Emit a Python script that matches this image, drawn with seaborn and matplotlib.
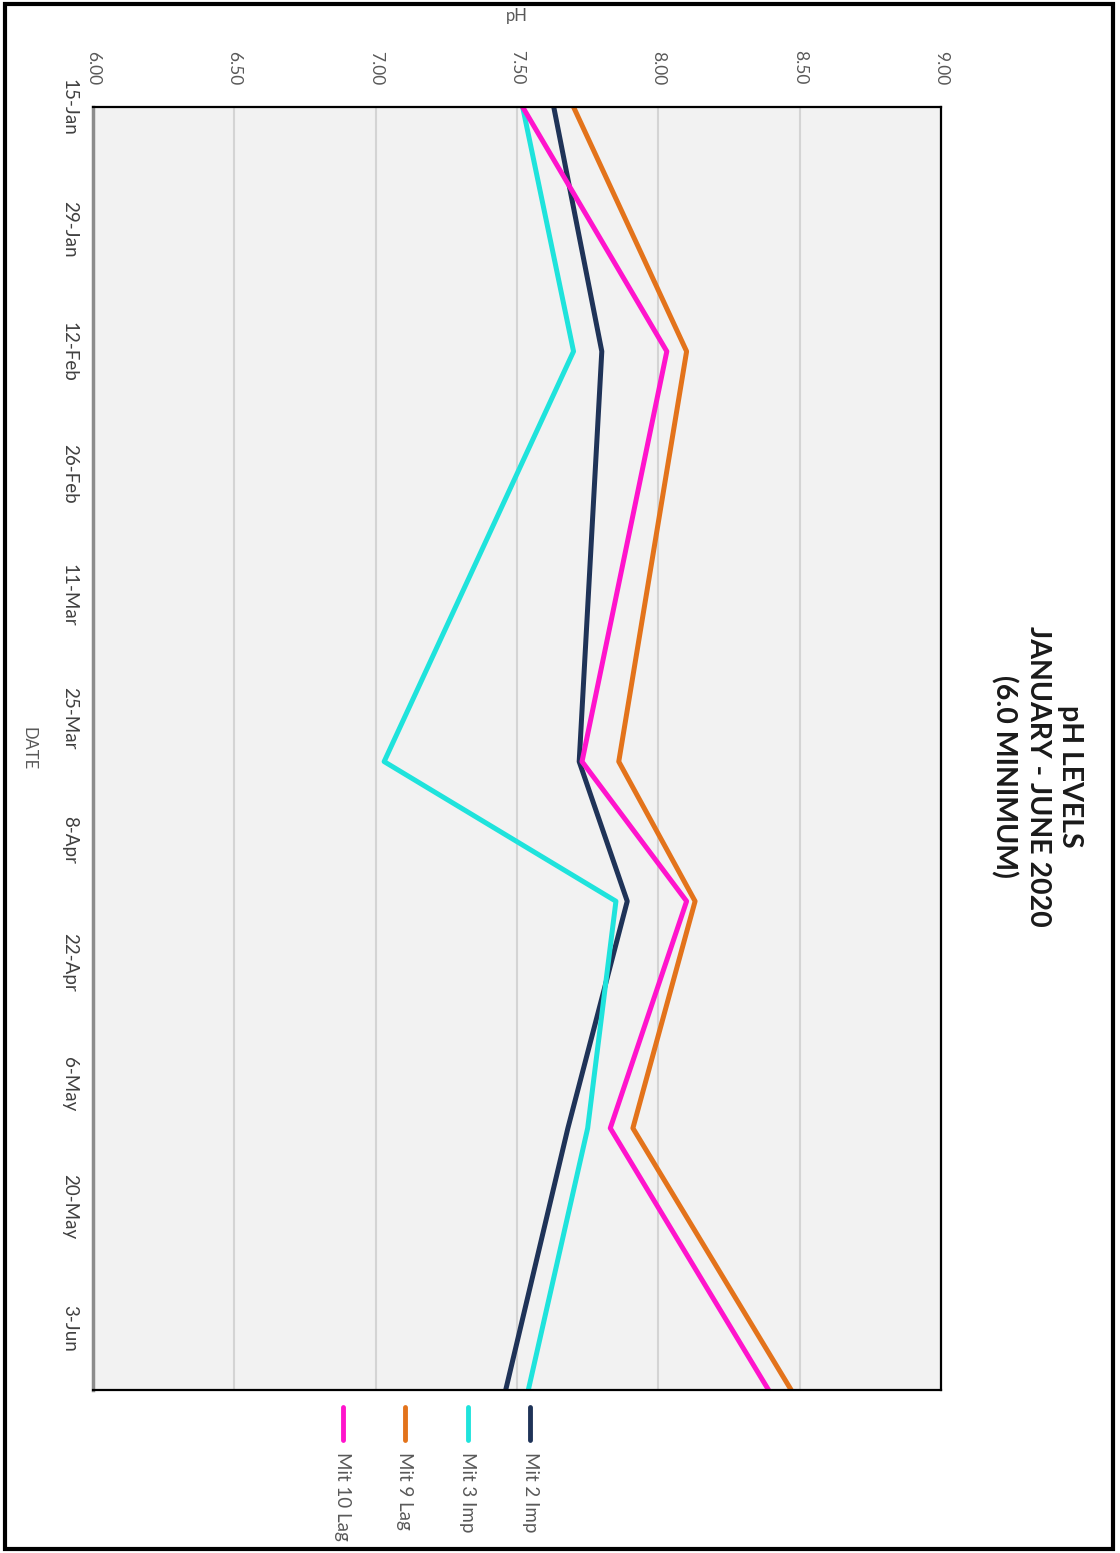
import pandas as pd
import matplotlib
matplotlib.use('Agg')
import matplotlib.pyplot as plt
from matplotlib.lines import Line2D
from matplotlib.patches import Rectangle
import seaborn as sns

# datos (pH por fecha de muestreo)
fechas = ['2020-01-15', '2020-02-12', '2020-03-30', '2020-04-15', '2020-05-11', '2020-06-10']
mit_2_imp = [7.63, 7.80, 7.72, 7.89, 7.68, 7.46]
mit_3_imp = [7.52, 7.70, 7.03, 7.85, 7.75, 7.54]
mit_9_lag = [7.70, 8.10, 7.86, 8.13, 7.91, 8.47]
mit_10_lag = [7.52, 8.03, 7.73, 8.10, 7.83, 8.39]

series = ['Mit 2 Imp', 'Mit 3 Imp', 'Mit 9 Lag', 'Mit 10 Lag']
colores = ['#1f3358', '#1fe3dc', '#e3731b', '#ff14cc']
ph_ticks = [6.0, 6.5, 7.0, 7.5, 8.0, 8.5, 9.0]
fechas_ticks = pd.date_range('2020-01-15', '2020-06-03', freq='14D')

# armar tabla larga para seaborn
df = pd.DataFrame({
    'DATE': pd.to_datetime(fechas * len(series)),
    'pH': mit_2_imp + mit_3_imp + mit_9_lag + mit_10_lag,
    'serie': [s for s in series for _ in fechas],
})

sns.set_style('white')
plt.rcParams['font.family'] = ['Lato', 'DejaVu Sans']

W, H = 1120, 1553
fig = plt.figure(figsize=(W / 100, H / 100), dpi=100)
ax = fig.add_axes([93 / W, 1 - 1390 / H, 848 / W, 1283 / H])
ax.set_facecolor('#f2f2f2')

# el grafico esta girado: fechas en vertical, pH en horizontal
sns.lineplot(data=df, x='pH', y='DATE', hue='serie',
             palette=dict(zip(series, colores)), orient='y', sort=False,
             linewidth=3.6, legend=False, ax=ax)

ax.set_xlim(6, 9)
ax.set_ylim(pd.Timestamp(fechas[-1]), pd.Timestamp(fechas[0]))

ax.xaxis.tick_top()
ax.set_xticks(ph_ticks)
ax.set_xticklabels([f'{v:.2f}' for v in ph_ticks])
ax.tick_params(axis='x', labelrotation=270, length=0, pad=16,
               labelsize=12.5, labelcolor='#595959')
ax.set_yticks(fechas_ticks)
ax.set_yticklabels([f'{d.day}-{d:%b}' for d in fechas_ticks])
ax.tick_params(axis='y', labelrotation=270, length=0, pad=11,
               labelsize=13.5, labelcolor='#404040')
for t in ax.get_yticklabels():
    t.set_va('center')

ax.set_xlabel('pH', fontsize=12, color='#595959')
ax.xaxis.set_label_position('top')
ax.xaxis.set_label_coords(0.5, (1390 - 16) / 1283)
ax.xaxis.label.set_va('center')
ax.set_ylabel('DATE', fontsize=12, color='#595959', rotation=270)
ax.yaxis.set_label_coords((28 - 93) / 848, 0.5)
ax.yaxis.label.set_va('center')

ax.grid(axis='x', color='#d4d4d4', linewidth=1.5)
ax.grid(axis='y', visible=False)
ax.set_axisbelow(True)
for lado in ['top', 'right', 'bottom']:
    ax.spines[lado].set_color('black')
    ax.spines[lado].set_linewidth(1.6)
ax.spines['left'].set_color('#8c8c8c')
ax.spines['left'].set_linewidth(2.5)

# titulo
fig.text(1037 / W, 0.5, 'pH LEVELS\nJANUARY - JUNE 2020\n(6.0 MINIMUM)',
         rotation=270, ha='center', va='center', fontsize=20.5,
         fontweight='bold', linespacing=1.3, multialignment='center',
         color='#1a1a1a')

# leyenda manual (lineas verticales con texto girado)
for i, (s, c) in enumerate(zip(series, colores)):
    x = (530 - 62.5 * i) / W
    fig.add_artist(Line2D([x, x], [1 - 1407 / H, 1 - 1440 / H],
                          transform=fig.transFigure, color=c, linewidth=3.5))
    fig.text(x, 1 - 1452 / H, s, rotation=270, ha='center', va='top',
             fontsize=13.5, color='#595959')

# marco exterior
fig.add_artist(Rectangle((5 / W, 4 / H), 1108 / W, 1545 / H,
                         transform=fig.transFigure, fill=False,
                         edgecolor='black', linewidth=3))

fig.savefig('out.png', dpi=100)
